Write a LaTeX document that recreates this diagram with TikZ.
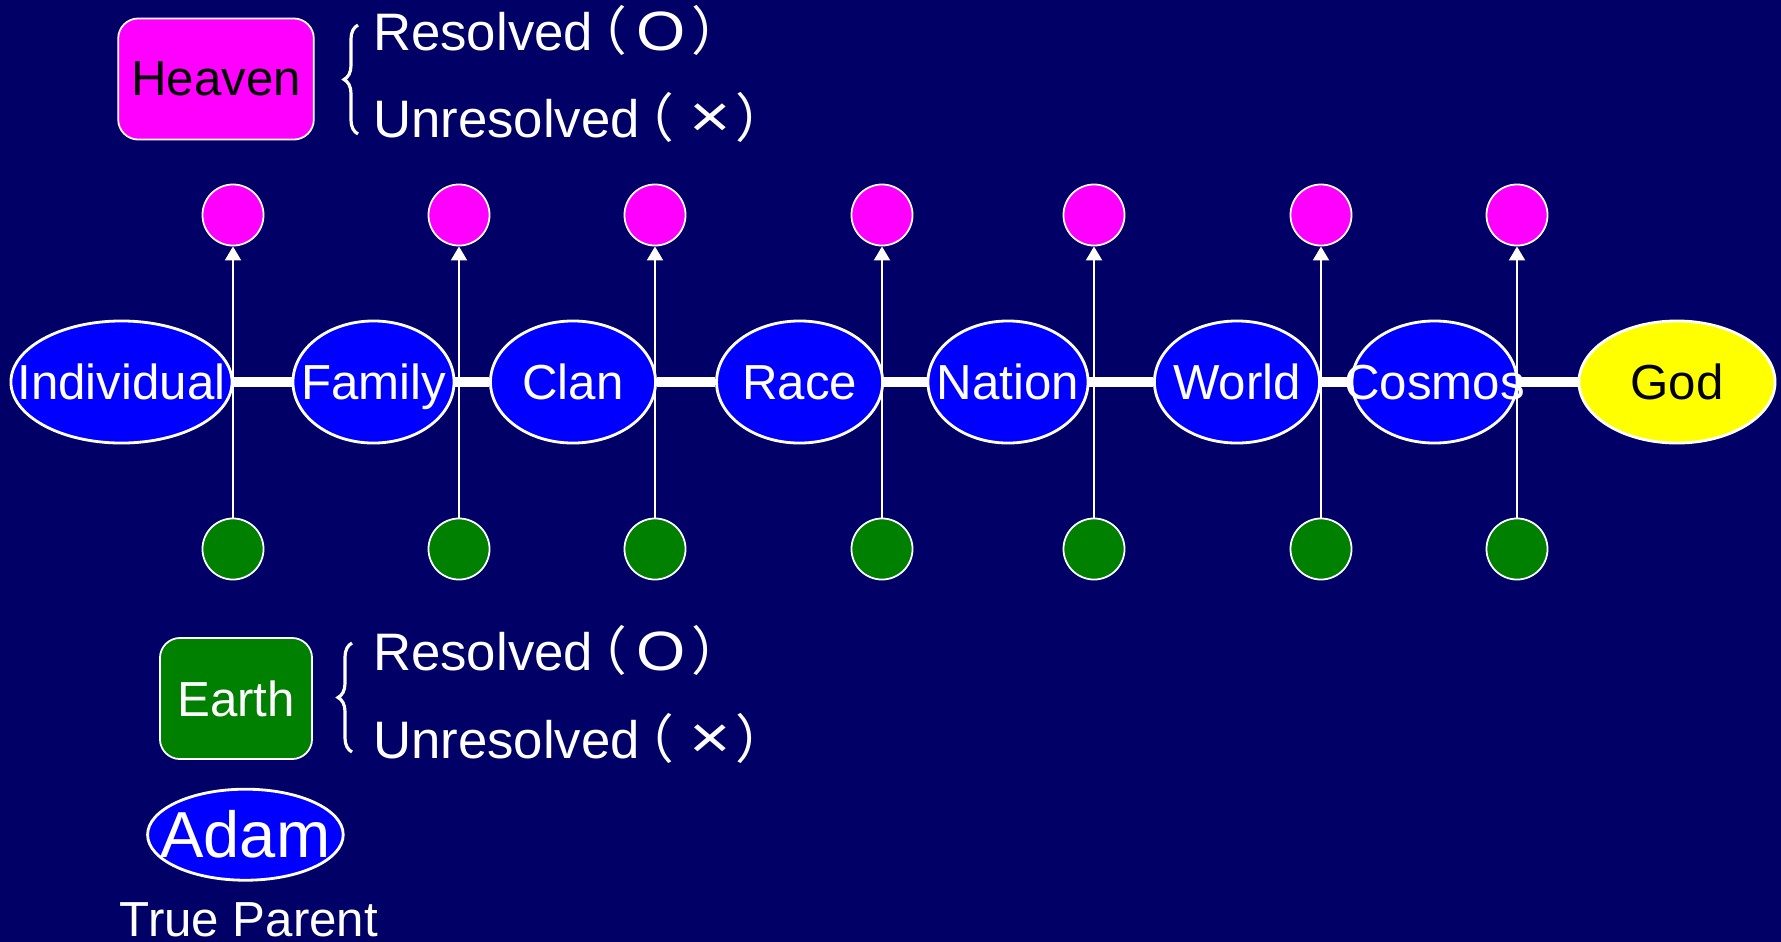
\documentclass[tikz,border=0pt]{standalone}
\usepackage{fontspec}
\setmainfont{Liberation Sans}
\newfontfamily\cjkfont{Noto Sans CJK JP}
\usepackage{graphicx}
\usepackage{tikz}
\usetikzlibrary{shapes.geometric, arrows.meta, decorations.pathreplacing}
\definecolor{slidenavy}{HTML}{000066}
\definecolor{stageblue}{HTML}{0000FF}
\definecolor{heavenpink}{HTML}{FF00FF}
\definecolor{earthgreen}{HTML}{008000}
\definecolor{godyellow}{HTML}{FFFF00}
\newcommand{\nowidth}[1]{\makebox[0pt]{#1}}
\newcommand{\resolvedmark}{Resolved\hspace{-0.36em}{\cjkfont （}\hspace{0.19em}\scalebox{1.2}[1.05]{O}\hspace{0.1em}{\cjkfont ）}}
\newcommand{\unresolvedmark}{Unresolved\hspace{-0.36em}{\cjkfont （}\hspace{0.29em}\scalebox{1.35}[1.15]{×}\hspace{0.1em}{\cjkfont ）}}

\begin{document}
\begin{tikzpicture}[
    x=0.01cm, y=-0.01cm,
    every node/.style={font=\fontsize{14}{16}\selectfont, text=white},
    stage/.style={ellipse, draw=white, line width=0.8pt, fill=stageblue, minimum height=1.22cm,
        inner sep=0pt, text height=10pt, text depth=0pt},
    dot/.style={circle, draw=white, line width=0.5pt, minimum size=0.61cm, inner sep=0pt},
    legendbox/.style={draw=white, rounded corners=0.2cm, line width=0.5pt, minimum height=1.21cm, inner sep=0pt},
    legendtext/.style={anchor=base west, inner sep=0pt, font=\fontsize{15}{17}\selectfont},
    chain/.style={white, line width=2.8pt},
    uparrow/.style={white, line width=0.8pt, -{Triangle[length=4pt, width=4.5pt]}},
    bracket/.style={white, line width=0.9pt, decorate, decoration={brace, amplitude=0.14cm}}
]
    \useasboundingbox (0,0) rectangle (1781,942);
    \fill[slidenavy] (0,0) rectangle (1781,942);

    % Stages
    \node[stage, minimum width=2.21cm] (ind) at (121.5,382) {\nowidth{Individual}};
    \node[stage, minimum width=1.61cm] (fam) at (373.5,382) {\nowidth{Family}};
    \node[stage, minimum width=1.65cm] (clan) at (573,382) {\nowidth{Clan}};
    \node[stage, minimum width=1.66cm] (race) at (799.6,382) {\nowidth{Race}};
    \node[stage, minimum width=1.60cm] (nation) at (1008,382) {\nowidth{Nation}};
    \node[stage, minimum width=1.65cm] (world) at (1237,382) {\nowidth{World}};
    \node[stage, minimum width=1.65cm] (cosmos) at (1434.5,382) {\nowidth{Cosmos}};
    \node[stage, fill=godyellow, text=black, minimum width=1.96cm] (god) at (1677,382) {\nowidth{God}};
    \foreach \a/\b in {ind/fam, fam/clan, clan/race, race/nation, nation/world, world/cosmos, cosmos/god}
        \draw[chain] (\a) -- (\b);

    % Heaven and earth points
    \foreach \x [count=\i] in {233,459,655,882,1094,1321,1517} {
        \node[dot, fill=heavenpink] (h\i) at (\x,215) {};
        \node[dot, fill=earthgreen] (e\i) at (\x,549) {};
        \draw[uparrow] (e\i) -- (h\i);
    }

    % Legend
    \node[legendbox, fill=heavenpink, text=black, minimum width=1.955cm] (heaven) at (216,79) {Heaven};
    \draw[bracket] (358,134) -- (358,25);
    \node[legendtext] (hres) at (372.5,50) {\resolvedmark};
    \node[legendtext] (hunres) at (372.5,137) {\unresolvedmark};

    \node[legendbox, fill=earthgreen, minimum width=1.52cm] (earth) at (236,698.5) {Earth};
    \draw[bracket] (352,752) -- (352,643);
    \node[legendtext] (eres) at (372.5,670) {\resolvedmark};
    \node[legendtext] (eunres) at (372.5,758.7) {\unresolvedmark};

    % True Parent
    \node[stage, minimum width=1.955cm, minimum height=0.91cm, text height=13.2pt,
        font=\fontsize{18.5}{20}\selectfont] (adam) at (245.4,834.7) {\nowidth{Adam}};
    \node[anchor=base, inner sep=0pt] (tp) at (249,936) {True Parent};
\end{tikzpicture}
\end{document}
